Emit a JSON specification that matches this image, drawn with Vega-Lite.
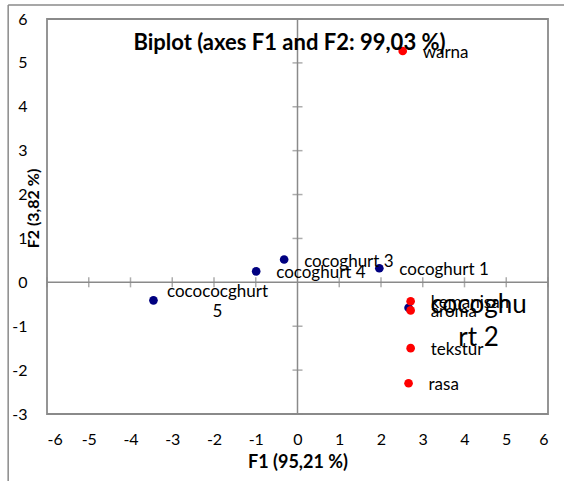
{
  "$schema": "https://vega.github.io/schema/vega-lite/v6.json",
  "width": 501,
  "height": 395,
  "autosize": {"type": "none"},
  "padding": {"left": 47, "top": 19, "right": 16, "bottom": 67},
  "background": "white",
  "config": {
    "font": "Lato",
    "view": {"stroke": "#8a8a8a", "strokeWidth": 1.8},
    "axis": {"grid": false, "domain": false, "ticks": false, "tickSize": 0, "labelColor": "#000000", "titleColor": "#000000", "labelFont": "Lato", "titleFont": "Lato"}
  },
  "title": {
    "text": "Biplot (axes F1 and F2: 99,03 %)",
    "font": "Lato",
    "fontSize": 22,
    "fontWeight": "bold",
    "color": "#000000",
    "anchor": "middle",
    "frame": "group",
    "baseline": "middle",
    "offset": 0,
    "dy": 61,
    "dx": -8
  },
  "datasets": {
    "pts": [
      {"label": "cocoghurt 1", "F1": 1.96, "F2": 0.32, "group": "observation"},
      {"label": "cocoghurt 3", "F1": -0.32, "F2": 0.52, "group": "observation"},
      {"label": "cocoghurt 4", "F1": -0.99, "F2": 0.25, "group": "observation"},
      {"label": "cocococghurt\n5", "F1": -3.45, "F2": -0.41, "group": "observation"},
      {"label": "cocoghu\nrt 2", "F1": 2.66, "F2": -0.58, "group": "observation"},
      {"label": "warna", "F1": 2.52, "F2": 5.27, "group": "variable"},
      {"label": "kemanisan", "F1": 2.71, "F2": -0.43, "group": "variable"},
      {"label": "aroma", "F1": 2.71, "F2": -0.64, "group": "variable"},
      {"label": "tekstur", "F1": 2.71, "F2": -1.5, "group": "variable"},
      {"label": "rasa", "F1": 2.66, "F2": -2.3, "group": "variable"}
    ],
    "xticks": [{"v": -6}, {"v": -5}, {"v": -4}, {"v": -3}, {"v": -2}, {"v": -1}, {"v": 1}, {"v": 2}, {"v": 3}, {"v": 4}, {"v": 5}, {"v": 6}],
    "yticks": [{"v": -3}, {"v": -2}, {"v": -1}, {"v": 1}, {"v": 2}, {"v": 3}, {"v": 4}, {"v": 5}, {"v": 6}]
  },
  "layer": [
    {
      "data": {"values": [{}]},
      "mark": {"type": "rule", "color": "#8a8a8a", "strokeWidth": 1.5, "clip": false},
      "encoding": {
        "x": {"datum": -6.93, "type": "quantitative", "scale": {"domain": [-6, 6], "nice": false, "zero": false}},
        "y": {"datum": 6.32, "type": "quantitative", "scale": {"domain": [-3, 6], "nice": false, "zero": false}},
        "x2": {"datum": 6.5}
      }
    },
    {
      "data": {"values": [{}]},
      "mark": {"type": "rule", "color": "#8a8a8a", "strokeWidth": 1.5, "clip": false},
      "encoding": {
        "x": {"datum": -6.93, "type": "quantitative"},
        "y": {"datum": 6.32, "type": "quantitative"},
        "y2": {"datum": -4.6}
      }
    },
    {
      "data": {"values": [{}]},
      "mark": {"type": "rule", "color": "#8a8a8a", "strokeWidth": 1.5},
      "encoding": {
        "x": {"datum": 0, "type": "quantitative"},
        "y": {"datum": -3, "type": "quantitative"},
        "y2": {"datum": 6}
      }
    },
    {
      "data": {"values": [{}]},
      "mark": {"type": "rule", "color": "#8a8a8a", "strokeWidth": 1.5},
      "encoding": {
        "y": {"datum": 0, "type": "quantitative"},
        "x": {"datum": -6, "type": "quantitative"},
        "x2": {"datum": 6}
      }
    },
    {
      "data": {"name": "xticks"},
      "mark": {"type": "tick", "orient": "vertical", "size": 10, "thickness": 1.5, "color": "#8a8a8a", "clip": false},
      "encoding": {
        "x": {"field": "v", "type": "quantitative"},
        "y": {"datum": 0, "type": "quantitative"}
      }
    },
    {
      "data": {"name": "yticks"},
      "mark": {"type": "tick", "orient": "horizontal", "size": 10, "thickness": 1.5, "color": "#8a8a8a", "clip": false},
      "encoding": {
        "y": {"field": "v", "type": "quantitative"},
        "x": {"datum": 0, "type": "quantitative"}
      }
    },
    {
      "data": {"name": "pts"},
      "mark": {"type": "circle", "size": 75, "opacity": 1},
      "encoding": {
        "x": {
          "field": "F1", "type": "quantitative",
          "axis": {"values": [-6, -5, -4, -3, -2, -1, 0, 1, 2, 3, 4, 5, 6], "labelExpr": "'' + datum.value", "labelFontSize": 16, "labelPadding": 17, "labelBaseline": "top", "title": "F1 (95,21 %)", "titleFontSize": 18, "titleFontWeight": "bold", "titlePadding": 6}
        },
        "y": {
          "field": "F2", "type": "quantitative",
          "axis": {"values": [-3, -2, -1, 0, 1, 2, 3, 4, 5, 6], "labelExpr": "'' + datum.value", "labelFontSize": 16, "labelPadding": 20, "title": "F2 (3,82 %)", "titleFontSize": 16, "titleFontWeight": "bold", "titleX": -14, "titleY": 189, "titleBaseline": "middle", "titleAlign": "center"}
        },
        "color": {"field": "group", "type": "nominal", "scale": {"domain": ["observation", "variable"], "range": ["#000080", "#ff0000"]}, "legend": null}
      }
    },
    {
      "data": {"name": "pts"},
      "transform": [{"filter": "indexof(datum.label, '\\n') < 0"}],
      "mark": {"type": "text", "align": "left", "baseline": "middle", "dx": 20, "dy": 2, "fontSize": 17, "color": "#000000"},
      "encoding": {
        "x": {"field": "F1", "type": "quantitative"},
        "y": {"field": "F2", "type": "quantitative"},
        "text": {"field": "label"}
      }
    },
    {
      "data": {"name": "pts"},
      "transform": [{"filter": "datum.label == 'cocococghurt\\n5'"}],
      "mark": {"type": "text", "align": "center", "baseline": "middle", "lineBreak": "\n", "lineHeight": 20, "dx": 64, "dy": -8, "fontSize": 17, "color": "#000000"},
      "encoding": {
        "x": {"field": "F1", "type": "quantitative"},
        "y": {"field": "F2", "type": "quantitative"},
        "text": {"field": "label"}
      }
    },
    {
      "data": {"name": "pts"},
      "transform": [{"filter": "datum.label == 'cocoghu\\nrt 2'"}],
      "mark": {"type": "text", "align": "center", "baseline": "middle", "lineBreak": "\n", "lineHeight": 33, "dx": 70, "dy": -3, "fontSize": 26, "color": "#000000"},
      "encoding": {
        "x": {"field": "F1", "type": "quantitative"},
        "y": {"field": "F2", "type": "quantitative"},
        "text": {"field": "label"}
      }
    }
  ]
}
